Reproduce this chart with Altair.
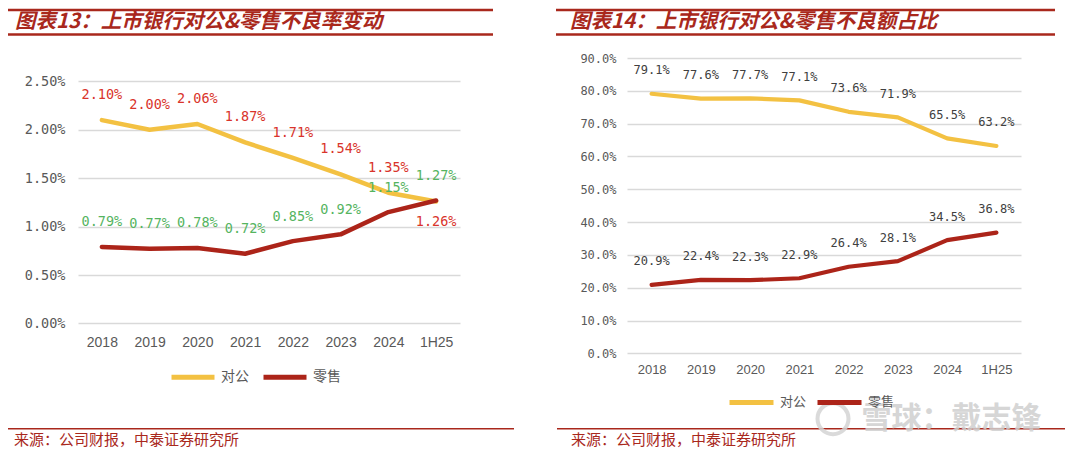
import altair as alt
import pandas as pd

# ---------------- data ----------------
cats = ["2018", "2019", "2020", "2021", "2022", "2023", "2024", "1H25"]
series = ["对公", "零售"]
npl_corp = [2.10, 2.00, 2.06, 1.87, 1.71, 1.54, 1.35, 1.26]
npl_retail = [0.79, 0.77, 0.78, 0.72, 0.85, 0.92, 1.15, 1.27]
share_corp = [79.1, 77.6, 77.7, 77.1, 73.6, 71.9, 65.5, 63.2]
share_retail = [20.9, 22.4, 22.3, 22.9, 26.4, 28.1, 34.5, 36.8]
ticks_left = [0, 0.5, 1.0, 1.5, 2.0, 2.5]
ticks_right = [0, 10, 20, 30, 40, 50, 60, 70, 80, 90]
title_left = "图表13：上市银行对公&零售不良率变动"
title_right = "图表14：上市银行对公&零售不良额占比"
source_text = "来源：公司财报，中泰证券研究所"
watermark = "雪球：戴志锋"


def long_df(a, b):
    return pd.DataFrame({
        "cat": cats * 2,
        "series": [series[0]] * len(cats) + [series[1]] * len(cats),
        "v": a + b,
    })


dfL = long_df(npl_corp, npl_retail)
dfR = long_df(share_corp, share_retail)
one = pd.DataFrame({"d": [0]})

# ---------------- style ----------------
YELLOW = "#F3C142"
RED = "#AC2419"
LAB_RED = "#D9342B"
LAB_GREEN = "#55B45F"
DARK = "#404040"
GRAY = "#595959"
GRID = "#D9D9D9"
BRAND = "#A9281C"
MONO = "DejaVu Sans Mono"
CJK = "Noto Sans CJK SC"
SANS = "Liberation Sans"

TOP = 57.3
LX0, LX1 = 78, 460
RX0, RX1 = 627, 1021
LBOT, RBOT = 322.7, 352.7
LW, RW = LX1 - LX0, RX1 - RX0
LH, RH = LBOT - TOP, RBOT - TOP
L_YMAX = 2.5 * LH / (LBOT - 80.7)


def py(y):
    return y - TOP


def deco(x0_page, panel_x0, title, line_end, bottom_start, bottom_end, source_x, title_x):
    px = lambda x: x - panel_x0
    layers = [
        alt.Chart(one).mark_rect(color=BRAND).encode(
            x=alt.value(px(x0_page)), x2=alt.value(px(line_end)),
            y=alt.value(py(8)), y2=alt.value(py(10.5))),
        alt.Chart(one).mark_rect(color=BRAND).encode(
            x=alt.value(px(x0_page)), x2=alt.value(px(line_end)),
            y=alt.value(py(32.5)), y2=alt.value(py(35))),
        alt.Chart(one).mark_rect(color=BRAND).encode(
            x=alt.value(px(bottom_start)), x2=alt.value(px(bottom_end)),
            y=alt.value(py(427.3)), y2=alt.value(py(428.8))),
        alt.Chart(one).mark_text(
            align="left", baseline="middle", font=CJK, fontSize=20.5,
            fontWeight="bold", fontStyle="italic", color=BRAND).encode(
            x=alt.value(px(title_x)), y=alt.value(py(21.5)), text=alt.value(title)),
        alt.Chart(one).mark_text(
            align="left", baseline="middle", font=CJK, fontSize=15,
            color=BRAND).encode(
            x=alt.value(px(source_x)), y=alt.value(py(439)), text=alt.value(source_text)),
    ]
    return layers


def x_enc(label_size, label_pad):
    return alt.X(
        "cat:N", sort=cats, scale=alt.Scale(type="point", padding=0.5),
        axis=alt.Axis(title=None, labelAngle=0, ticks=False, domain=False, grid=False,
                      labelFont=SANS, labelFontSize=label_size, labelColor=GRAY,
                      labelPadding=label_pad, labelBaseline="middle"))


def y_enc(ymax, vals, fmt, label_size, label_pad):
    return alt.Y(
        "v:Q", scale=alt.Scale(domain=[0, ymax], nice=False, zero=True),
        axis=alt.Axis(title=None, values=vals, labelExpr=f"format(datum.value,'{fmt}')+'%'",
                      ticks=False, domain=False, gridColor=GRID, gridWidth=1.5,
                      labelFont=MONO, labelFontSize=label_size, labelColor=GRAY,
                      labelPadding=label_pad))


XL = x_enc(14, 19)
YL = y_enc(L_YMAX, ticks_left, ".2f", 13.5, 13)
XR = x_enc(13, 16)
YR = y_enc(90, ticks_right, ".1f", 12, 11)


def labels(df, X, Y, flt, dy, color, fmt, size):
    return alt.Chart(df).transform_filter(flt).transform_calculate(
        t=f"format(datum.v,'{fmt}')+'%'").mark_text(
        dy=dy, font=MONO, fontSize=size, color=color).encode(x=X, y=Y, text="t:N")


# ---------------- left panel ----------------
colL = alt.Color(
    "series:N", scale=alt.Scale(domain=series, range=[YELLOW, RED]),
    legend=alt.Legend(title=None, orient="none", legendX=172 - LX0 - 3, legendY=py(374) - 21.5,
                      direction="horizontal", symbolType="stroke", symbolSize=1849,
                      symbolStrokeWidth=5, labelFont=CJK, labelFontSize=14,
                      labelColor=GRAY, labelOffset=4, columnPadding=4, padding=0))

lineL = alt.Chart(dfL).mark_line(strokeWidth=4.5, strokeCap="round", strokeJoin="round").encode(
    x=XL, y=YL, color=colL)

labL1 = labels(dfL, XL, YL, "datum.series=='对公' && datum.cat!='1H25'", -25, LAB_RED, ".2f", 13.5)
labL2 = labels(dfL, XL, YL, "datum.series=='对公' && datum.cat=='1H25'", 21, LAB_RED, ".2f", 13.5)
labL3 = labels(dfL, XL, YL, "datum.series=='零售'", -24.5, LAB_GREEN, ".2f", 13.5)

left = alt.layer(
    lineL, labL1, labL2, labL3,
    *deco(8, LX0, title_left, 493, 8, 514, 14, 15)
).properties(width=LW, height=LH)

# ---------------- right panel ----------------
colR = alt.Color(
    "series:N", scale=alt.Scale(domain=series, range=[YELLOW, RED]),
    legend=alt.Legend(title=None, orient="none", legendX=730 - RX0 - 3, legendY=py(399) - 22,
                      direction="horizontal", symbolType="stroke", symbolSize=1936,
                      symbolStrokeWidth=5, labelFont=CJK, labelFontSize=13,
                      labelColor=GRAY, labelOffset=4, columnPadding=0, padding=0))

lineR = alt.Chart(dfR).mark_line(strokeWidth=4.2, strokeCap="round", strokeJoin="round").encode(
    x=XR, y=YR, color=colR)
labR1 = labels(dfR, XR, YR, "datum.series=='对公'", -23.5, DARK, ".1f", 12)
labR2 = labels(dfR, XR, YR, "datum.series=='零售'", -23.5, DARK, ".1f", 12)

wm_logo = alt.Chart(one).mark_point(
    shape="circle", filled=False, size=960, strokeWidth=4, color="#d4d4d4", opacity=0.85).encode(
    x=alt.value(833 - RX0), y=alt.value(py(418)))
wm_text = alt.Chart(one).mark_text(
    align="center", baseline="middle", font=CJK, fontSize=30, fontWeight="bold",
    color="#cfcfcf", opacity=0.85).encode(
    x=alt.value(951.5 - RX0), y=alt.value(py(418)), text=alt.value(watermark))

right = alt.layer(
    lineR, labR1, labR2,
    *deco(556, RX0, title_right, 1055, 557, 1065, 571, 570),
    wm_logo, wm_text
).properties(width=RW, height=RH)

chart = alt.hconcat(left, right, spacing=RX0 - LX1, bounds="flush").resolve_scale(
    color="independent").resolve_legend(color="independent").properties(
    padding=0, background="white").configure_view(stroke=None)

chart.save("out.html", embed_options={"renderer": "svg", "actions": False})
